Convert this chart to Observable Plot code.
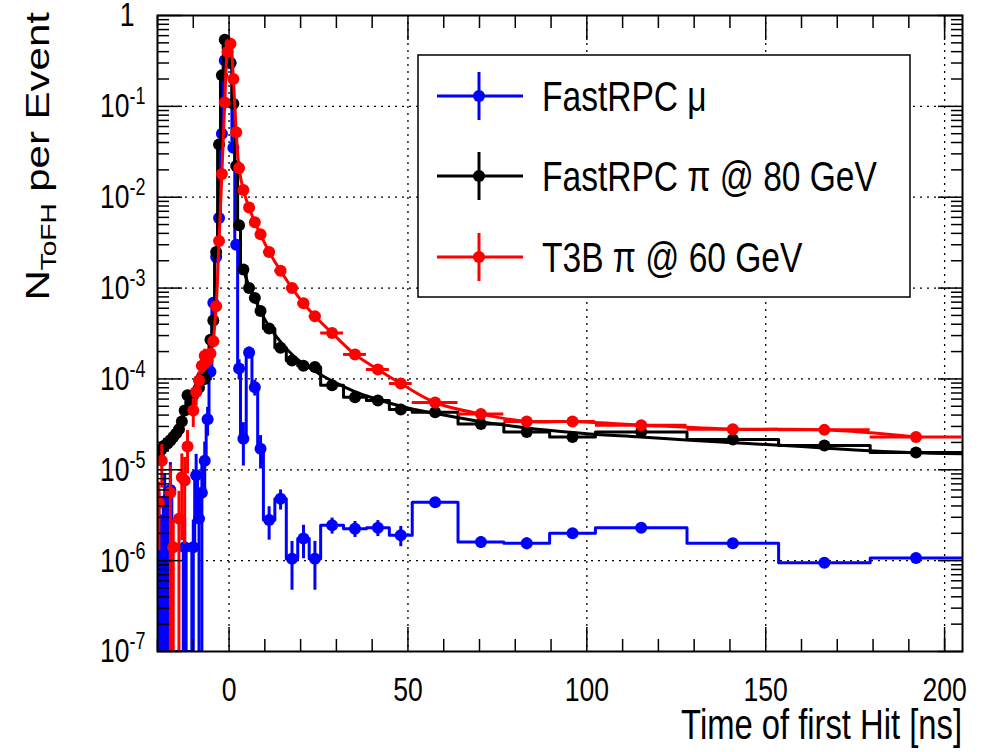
<!DOCTYPE html>
<html><head><meta charset="utf-8">
<script src="https://cdn.jsdelivr.net/npm/d3@7"></script>
<script src="https://cdn.jsdelivr.net/npm/@observablehq/plot@0.6"></script>
<style>body{margin:0;background:#fff} svg{display:block}</style>
</head><body><div id="chart"></div>
<script>
// ---- data ----
const binEdges = [-20,-19.2,-18.4,-17.6,-16.8,-16,-15.2,-14.4,-13.6,-12.8,-12,-11.2,-10.4,-9.6,-8.8,-8,-7.2,-6.4,-5.6,-4.8,-4,-3.2,-2.4,-1.6,-0.8,0,0.8,1.6,2.4,3.2,
  4.8,6.4,8.0,9.6, 12.8,16,19.2,22.4,25.6, 32,38.4,44.8,51.2, 64,76.8,89.6,102.4, 128,153.6,179.2,204.8];

const blueVals = [
  2.8e-6,0,4.5e-6,0,6e-6,0,0,0,0,1.4e-6,
  0,0,1.4e-6,8.7e-6,2.9e-6,5.6e-6,1.26e-5,3.6e-5,1.2e-4,6.9e-4,
  2.2e-3,5.9e-3,0.05,0.32,0.5,0.3,0.035,3e-3,1.3e-4,
  2.2e-5,1.95e-4,8.1e-5,1.7e-5,
  2.8e-6,4.8e-6,1.05e-6,1.75e-6,1.05e-6,
  2.45e-6,2.25e-6,2.3e-6,1.9e-6,
  4.4e-6,1.6e-6,1.55e-6,2e-6,
  2.3e-6,1.55e-6,9.5e-7,1.07e-6];
const blueErr = [
  1,0,1,0,1,0,0,0,0,1,
  0,0,1,0.7,1,1,0.6,0.35,0.2,0.1,
  0.05,0.03,0.01,0.01,0.01,0.01,0.02,0.05,0.25,
  0.5,0.15,0.2,0.4,
  0.4,0.25,0.55,0.4,0.55,
  0.2,0.2,0.2,0.25,
  0.08,0.15,0.15,0.12,
  0.06,0.08,0.12,0.1];

const blackVals = [
  1.5e-5,1.7e-5,1.85e-5,1.95e-5,2.1e-5,2.3e-5,2.5e-5,2.8e-5,3.4e-5,4.5e-5,
  6.6e-5,5.5e-5,6.6e-5,7.2e-5,8e-5,1.05e-4,1.0e-4,1.8e-4,2.7e-4,4.4e-4,
  2.5e-3,0.038,0.22,0.54,0.45,0.3,0.107,0.022,4.9e-3,
  1.6e-3,1e-3,7.8e-4,5.6e-4,
  3.6e-4,2.2e-4,1.6e-4,1.4e-4,1.35e-4,
  8.5e-5,6.3e-5,5.8e-5,4.6e-5,
  4.3e-5,3.2e-5,2.6e-5,2.3e-5,
  2.6e-5,2.15e-5,1.85e-5,1.55e-5];
const blackErr = [
  0.2,0.2,0.2,0.2,0.18,0.18,0.17,0.16,0.15,0.13,
  0.12,0.12,0.12,0.11,0.1,0.09,0.09,0.07,0.06,0.05,
  0.02,0.01,0.01,0.01,0.01,0.01,0.01,0.01,0.02,
  0.03,0.03,0.04,0.04,
  0.04,0.05,0.05,0.05,0.05,
  0.05,0.05,0.05,0.05,
  0.04,0.04,0.04,0.04,
  0.03,0.03,0.03,0.03];

const redVals = [
  4.3e-6,1.26e-5,0,0,5.6e-6,1.4e-6,0,2.9e-6,8.3e-6,7.6e-6,
  1.8e-5,0,4.5e-5,7.2e-5,9.6e-5,1.4e-4,1.8e-4,1.6e-4,1.9e-4,2.6e-4,
  6.3e-4,3.3e-3,0.018,0.11,0.4,0.49,0.2,0.052,0.021,
  0.012,7.7e-3,5.3e-3,3.9e-3,
  2.5e-3,1.55e-3,1e-3,6.8e-4,4.9e-4,
  3.2e-4,1.86e-4,1.27e-4,8.9e-5,
  5.5e-5,4.1e-5,3.4e-5,3.4e-5,
  3.1e-5,2.8e-5,2.75e-5,2.3e-5];
const redErr = [
  0.7,0.5,0,0,1,1,0,1,0.8,0.8,
  0.5,0,0.35,0.3,0.25,0.2,0.18,0.18,0.15,0.12,
  0.08,0.03,0.02,0.01,0.01,0.01,0.01,0.01,0.02,
  0.02,0.02,0.02,0.03,
  0.03,0.03,0.04,0.04,0.05,
  0.05,0.05,0.05,0.06,
  0.06,0.06,0.06,0.06,
  0.05,0.05,0.05,0.05];
const redCurveStart = -4.4;

// black fit curve
const fitX = [4,6,8,10,12,15,18,21,25,30,35,40,45,50,60,70,80,90,100,115,130,145,160,175,190,205];
const fitY = [1.6e-3,9.5e-4,6.5e-4,4.5e-4,3.4e-4,2.4e-4,1.8e-4,1.45e-4,1.15e-4,9e-5,7.3e-5,6.2e-5,5.4e-5,4.8e-5,4e-5,3.4e-5,3e-5,2.7e-5,2.5e-5,2.3e-5,2.1e-5,1.95e-5,1.8e-5,1.65e-5,1.55e-5,1.5e-5];

const seriesNames = ["FastRPC \u03bc", "FastRPC \u03c0 @ 80 GeV", "T3B \u03c0 @ 60 GeV"];
const seriesColors = ["#0000ff", "#000000", "#ff0000"];

const xMajorTicks = [0,50,100,150,200];
const xMinorTicks = [-20,-10,10,20,30,40,60,70,80,90,110,120,130,140,160,170,180,190,200];
const yMajorTicks = [1e-7,1e-6,1e-5,1e-4,1e-3,1e-2,1e-1,1];
const xDomain = [-20, 205];
const yMin = 1e-7, yMax = 1;
const xTitle = "Time of first Hit [ns]";

// ---- derived tables ----
const yMinorTicks = [];
for (let d = -7; d < 0; d++) for (let k = 2; k <= 9; k++) yMinorTicks.push(k * Math.pow(10, d));

function rows(vals, errs) {
  return vals.map((v, i) => ({
    x0: binEdges[i], x1: binEdges[i + 1], x: (binEdges[i] + binEdges[i + 1]) / 2, v,
    lo: Math.max(v * (1 - errs[i]), yMin), hi: v * (1 + errs[i])
  }));
}
function steps(rs) {
  return rs.flatMap(r => [{x: r.x0, y: Math.max(r.v, yMin)}, {x: r.x1, y: Math.max(r.v, yMin)}]);
}
const blue = rows(blueVals, blueErr), black = rows(blackVals, blackErr), red = rows(redVals, redErr);
const nz = rs => rs.filter(r => r.v > 0);
const fit = fitX.map((x, i) => ({x, y: fitY[i]}));

const LW = 3, R = 6;
const gridStyle = {stroke: "black", strokeOpacity: 1, strokeWidth: 1.3, strokeDasharray: "2,5"};
const tickOpts = {tickFormat: () => "", label: null, stroke: "black", strokeWidth: 1.5};

const chart = Plot.plot({
  width: 984, height: 752,
  marginLeft: 157, marginRight: 22, marginTop: 15, marginBottom: 101,
  x: {domain: xDomain},
  y: {type: "log", domain: [yMin, yMax]},
  style: {fontFamily: "'Liberation Sans', Arimo, Arial, Helvetica, sans-serif", background: "white", color: "black"},
  marks: [
    Plot.gridX(xMajorTicks, gridStyle),
    Plot.gridY(yMajorTicks.slice(1, -1), gridStyle),
    // blue
    Plot.line(steps(blue), {x: "x", y: "y", stroke: seriesColors[0], strokeWidth: LW, clip: true}),
    Plot.ruleX(nz(blue), {x: "x", y1: "lo", y2: "hi", stroke: seriesColors[0], strokeWidth: LW, clip: true}),
    Plot.dot(nz(blue), {x: "x", y: "v", r: R, fill: seriesColors[0], clip: true}),
    // black
    Plot.line(steps(black), {x: "x", y: "y", stroke: seriesColors[1], strokeWidth: LW, clip: true}),
    Plot.line(fit, {x: "x", y: "y", stroke: seriesColors[1], strokeWidth: LW, curve: "monotone-x", clip: true}),
    Plot.ruleX(nz(black), {x: "x", y1: "lo", y2: "hi", stroke: seriesColors[1], strokeWidth: LW, clip: true}),
    Plot.dot(nz(black), {x: "x", y: "v", r: R, fill: seriesColors[1], clip: true}),
    // red
    Plot.line(nz(red).filter(r => r.x >= redCurveStart), {x: "x", y: "v", stroke: seriesColors[2], strokeWidth: LW, curve: "catmull-rom", clip: true}),
    Plot.ruleY(nz(red), {y: "v", x1: "x0", x2: "x1", stroke: seriesColors[2], strokeWidth: LW, clip: true}),
    Plot.ruleX(nz(red), {x: "x", y1: "lo", y2: "hi", stroke: seriesColors[2], strokeWidth: LW, clip: true}),
    Plot.dot(nz(red), {x: "x", y: "v", r: R, fill: seriesColors[2], clip: true}),
    // frame and axes
    Plot.frame({stroke: "black", strokeWidth: 2}),
    Plot.axisX(xMajorTicks, {anchor: "bottom", tickSize: 0, tickPadding: 25, fontSize: 34, label: null}),
    Plot.axisX(xMajorTicks, {anchor: "bottom", tickSize: -24, ...tickOpts}),
    Plot.axisX(xMinorTicks, {anchor: "bottom", tickSize: -12, ...tickOpts}),
    Plot.axisX(xMajorTicks, {anchor: "top", tickSize: -24, ...tickOpts}),
    Plot.axisX(xMinorTicks, {anchor: "top", tickSize: -12, ...tickOpts}),
    Plot.axisY(yMajorTicks, {anchor: "left", tickSize: 0, tickPadding: 12, fontSize: 34, label: null,
      tickFormat: d => d === 1 ? "1" : "10^" + Math.round(Math.log10(d))}),
    Plot.axisY(yMajorTicks, {anchor: "left", tickSize: -25, ...tickOpts}),
    Plot.axisY(yMinorTicks, {anchor: "left", tickSize: -12, ...tickOpts}),
    Plot.axisY(yMajorTicks, {anchor: "right", tickSize: -25, ...tickOpts}),
    Plot.axisY(yMinorTicks, {anchor: "right", tickSize: -12, ...tickOpts})
  ]
});
document.getElementById("chart").append(chart);

const svgns = "http://www.w3.org/2000/svg";
const S = d3.select(chart);

// superscripts in y tick labels
S.selectAll('g[aria-label="y-axis tick label"] text').each(function() {
  const t = this.textContent;
  if (t.startsWith("10^")) {
    this.textContent = "10";
    const ts = document.createElementNS(svgns, "tspan");
    ts.setAttribute("dy", "-13");
    ts.setAttribute("font-size", "23");
    ts.textContent = t.slice(3);
    this.appendChild(ts);
  } else {
    this.setAttribute("dx", "-11");
  }
});

// x title
S.append("text").attr("x", 962).attr("y", 739).attr("text-anchor", "end")
  .attr("font-size", 42).attr("fill", "black").text(xTitle);

// y title (rotated, compressed in the page-x direction)
const yt = S.append("g").attr("transform", "translate(49,12) scale(0.78,1) rotate(-90)")
  .append("text").attr("class", "nosq").attr("text-anchor", "end").attr("font-size", 42).attr("fill", "black");
yt.append("tspan").text("N");
yt.append("tspan").attr("font-size", 28).attr("dy", 9).text("ToFH");
yt.append("tspan").attr("dy", -9).text(" per Event");

// legend
const L = S.append("g");
L.append("rect").attr("x", 418).attr("y", 55).attr("width", 492).attr("height", 242)
  .attr("fill", "white").attr("stroke", "black").attr("stroke-width", 1.5);
const rowsY = [96, 176, 257];
seriesNames.forEach((name, i) => {
  const y = rowsY[i], c = seriesColors[i];
  L.append("line").attr("x1", 437).attr("x2", 523).attr("y1", y).attr("y2", y).attr("stroke", c).attr("stroke-width", LW);
  L.append("line").attr("x1", 479).attr("x2", 479).attr("y1", y - 24).attr("y2", y + 24).attr("stroke", c).attr("stroke-width", LW);
  L.append("circle").attr("cx", 479).attr("cy", y).attr("r", R).attr("fill", c);
  L.append("text").attr("x", 542).attr("y", y + 15).attr("text-anchor", "start")
    .attr("font-size", 43).attr("fill", "black").text(name);
});

// horizontally compress text like the reference
chart.querySelectorAll("text").forEach(t => {
  if (t.classList.contains("nosq")) return;
  const len = t.getComputedTextLength();
  if (len > 0) {
    t.setAttribute("textLength", (len * 0.78).toFixed(1));
    t.setAttribute("lengthAdjust", "spacingAndGlyphs");
  }
});
</script>
</body></html>
